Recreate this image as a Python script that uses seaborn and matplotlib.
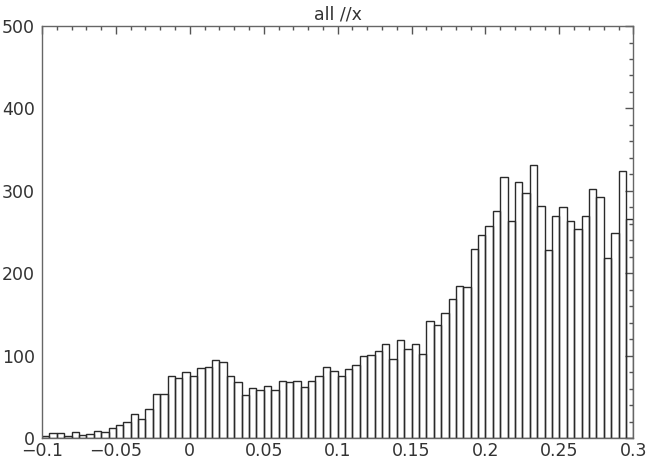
import numpy as np
import pandas as pd
import matplotlib
matplotlib.use("Agg")
import matplotlib.pyplot as plt
import matplotlib.ticker as mticker
import seaborn as sns

# bin layout (80 bins of 0.005 from -0.1 to 0.3)
bin_start = -0.1
bin_stop = 0.3

counts = [3, 6, 7, 3, 8, 4, 5, 9, 8, 13,
          16, 20, 30, 24, 36, 54, 54, 75, 73, 81,
          76, 85, 87, 95, 93, 76, 68, 53, 61, 58,
          64, 58, 70, 68, 70, 62, 70, 75, 87, 82,
          76, 84, 89, 100, 101, 106, 114, 96, 119, 108,
          114, 102, 142, 137, 152, 169, 185, 184, 229, 247,
          258, 276, 317, 264, 311, 297, 331, 282, 228, 270,
          280, 264, 254, 269, 302, 293, 219, 249, 324, 266]

xticks = [-0.1, -0.05, 0, 0.05, 0.1, 0.15, 0.2, 0.25, 0.3]
xtick_labels = ["\u22120.1", "\u22120.05", "0", "0.05", "0.1", "0.15", "0.2", "0.25", "0.3"]
yticks = [0, 100, 200, 300, 400, 500]
title = "all //x"

edges = np.linspace(bin_start, bin_stop, len(counts) + 1)
df = pd.DataFrame({"x": (edges[:-1] + edges[1:]) / 2, "n": counts})

sns.set_style("white")
plt.rcParams["font.family"] = ["DejaVu Sans"]

fig = plt.figure(figsize=(6.47, 4.62), dpi=100)
ax = fig.add_axes([0.0649, 0.0513, 0.9139, 0.8924])

sns.histplot(data=df, x="x", weights="n", bins=len(counts),
             binrange=(bin_start, bin_stop), fill=False,
             element="bars", color="#2a2a2a", linewidth=1.0, ax=ax)

ax.set_xlim(bin_start, bin_stop)
ax.set_ylim(0, 500)
ax.set_xticks(xticks)
ax.set_xticklabels(xtick_labels)
ax.set_yticks(yticks)
ax.xaxis.set_minor_locator(mticker.MultipleLocator(0.01))
ax.yaxis.set_minor_locator(mticker.MultipleLocator(20))
ax.tick_params(which="both", direction="in", top=True, right=True,
               color="#555555", labelsize=12.5, labelcolor="#333333")
ax.tick_params(axis="x", pad=3)
ax.tick_params(axis="y", pad=5)
ax.tick_params(which="major", length=6, width=1)
ax.tick_params(which="minor", length=3, width=1)
for s in ax.spines.values():
    s.set_color("#666666")
    s.set_linewidth(1)
ax.set_xlabel("")
ax.set_ylabel("")
ax.set_title(title, fontsize=12.5, color="#333333", pad=5)

plt.savefig("out.png", dpi=100)
plt.close(fig)
